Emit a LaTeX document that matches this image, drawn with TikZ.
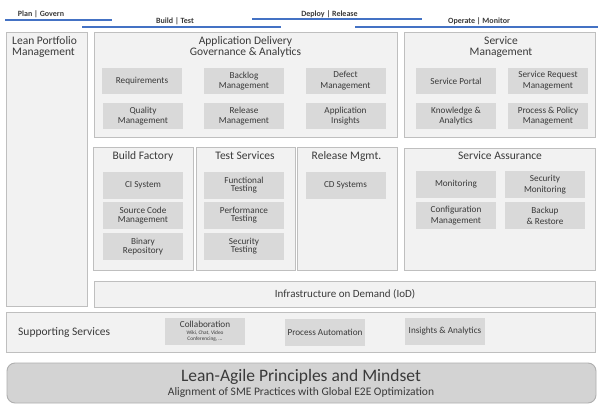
\documentclass[tikz,border=0pt]{standalone}
\usepackage{fontspec}
\setmainfont{Carlito}
\definecolor{lineblue}{HTML}{4472C4}
\definecolor{boxfill}{HTML}{F2F2F2}
\definecolor{boxdraw}{HTML}{BFBFBF}
\definecolor{innerfill}{HTML}{D9D9D9}
\definecolor{txt}{HTML}{3A3A3A}
\definecolor{basefill}{HTML}{D3D3D3}
\definecolor{basedraw}{HTML}{AFAFAF}
\tikzset{
  outerbox/.style={draw=boxdraw, fill=boxfill, line width=0.9pt},
  innerbox/.style={fill=innerfill, text=txt, align=center, inner sep=0pt, outer sep=0pt,
    minimum width=80pt, minimum height=26pt, font=\fontsize{9.2}{10.8}\selectfont},
  tightbox/.style={innerbox, minimum height=27pt, font=\fontsize{9.2}{8.2}\selectfont},
  titletext/.style={text=txt, align=center, inner sep=0pt, font=\fontsize{11.5}{11}\selectfont},
  phaseline/.style={draw=lineblue, line width=2.3pt},
  phaselabel/.style={text=txt, inner sep=0pt, font=\bfseries\fontsize{8}{8}\selectfont},
}
\begin{document}
\begin{tikzpicture}[x=1pt,y=-1pt]
\useasboundingbox[fill=white] (0,0) rectangle (600,410);

% phase lines
\coordinate (p1a) at (5,20); \coordinate (p1b) at (112,20);
\coordinate (p2a) at (82,27); \coordinate (p2b) at (281,27);
\coordinate (p3a) at (252,19); \coordinate (p3b) at (422,19);
\coordinate (p4a) at (355,27); \coordinate (p4b) at (598,27);
\draw[phaseline] (p1a) -- (p1b);
\draw[phaseline] (p2a) -- (p2b);
\draw[phaseline] (p3a) -- (p3b);
\draw[phaseline] (p4a) -- (p4b);
\node[phaselabel] (lplan) at (41,14) {Plan | Govern};
\node[phaselabel] (lbuild) at (175,21) {Build | Test};
\node[phaselabel] (ldeploy) at (329.5,14) {Deploy | Release};
\node[phaselabel] (loperate) at (479,21) {Operate | Monitor};

% outer boxes
\draw[outerbox] (6,32) rectangle (87,306);
\node[titletext, anchor=west, align=left] (lpm) at (12,47) {Lean Portfolio\\Management};

\draw[outerbox] (94,32) rectangle (397,137);
\node[titletext] (adga) at (245.5,47) {Application Delivery\\Governance \& Analytics};

\draw[outerbox] (404,32) rectangle (595,137);
\node[titletext] (svcm) at (501,47) {Service\\Management};

\draw[outerbox] (93,147) rectangle (193,270);
\node[titletext] (bf) at (143,156) {Build Factory};
\draw[outerbox] (196,147) rectangle (295,270);
\node[titletext] (ts) at (245,156) {Test Services};
\draw[outerbox] (297,147) rectangle (397,270);
\node[titletext] (rm) at (346.5,156) {Release Mgmt.};
\draw[outerbox] (404,148) rectangle (595,270);
\node[titletext] (sa) at (500,156) {Service Assurance};

\draw[outerbox] (94,281) rectangle (595,307);
\node[titletext, font=\fontsize{11}{11}\selectfont] (iod) at (345,294) {Infrastructure on Demand (IoD)};

\draw[outerbox] (6,312) rectangle (595,352);
\node[titletext, anchor=west, font=\fontsize{11.5}{11}\selectfont] (ss) at (18,333) {Supporting Services};

\draw[draw=basedraw, fill=basefill, line width=0.9pt, rounded corners=8pt] (7,363) rectangle (596,403);
\node[titletext, font=\fontsize{17.5}{18}\selectfont] (lap) at (301,377) {Lean-Agile Principles and Mindset};
\node[titletext, font=\fontsize{11.5}{12}\selectfont] (align) at (301,392.5) {Alignment of SME Practices with Global E2E Optimization};

% application delivery inner
\node[innerbox] (req) at (142,81) {Requirements};
\node[innerbox] (bkl) at (244,81) {Backlog\\Management};
\node[innerbox] (dfm) at (345.5,81) {Defect\\Management};
\node[innerbox] (qm) at (143,116) {Quality\\Management};
\node[innerbox] (rlm) at (244,116) {Release\\Management};
\node[innerbox] (ai) at (345.5,116) {Application\\Insights};

% service management inner
\node[innerbox] (sp) at (456,81) {Service Portal};
\node[innerbox] (srm) at (548,81) {Service Request\\Management};
\node[innerbox] (ka) at (456,116) {Knowledge \&\\Analytics};
\node[innerbox] (ppm) at (548,116) {Process \& Policy\\Management};

% build factory
\node[tightbox] (ci) at (143,185) {CI System};
\node[tightbox] (scm) at (143,215.5) {Source Code\\Management};
\node[tightbox] (br) at (143,246.5) {Binary\\Repository};

% test services
\node[tightbox] (ft) at (244,185) {Functional\\Testing};
\node[tightbox] (pt) at (244,215.5) {Performance\\Testing};
\node[tightbox] (st) at (244,246.5) {Security\\Testing};

% release mgmt
\node[tightbox] (cd) at (345.5,185.5) {CD Systems};

% service assurance
\node[innerbox, minimum height=27pt] (mon) at (456,184.5) {Monitoring};
\node[innerbox, minimum height=27pt] (smon) at (545,184.5) {Security\\Monitoring};
\node[innerbox, minimum height=27pt] (cfg) at (456,215.5) {Configuration\\Management};
\node[innerbox, minimum height=27pt] (bak) at (545,215.5) {Backup\\\& Restore};

% supporting services
\node[innerbox, minimum height=27pt, font=\fontsize{9.2}{8}\selectfont] (col) at (205,331.5) {Collaboration\\[-1pt]{\fontsize{5.3}{6}\selectfont Wiki, Chat, Video}\\[-2.5pt]{\fontsize{5.3}{6}\selectfont Conferencing, ...}};
\node[innerbox, minimum height=27pt] (pa) at (325,332.5) {Process Automation};
\node[innerbox, minimum height=27pt] (ia) at (445,331.5) {Insights \& Analytics};
\end{tikzpicture}
\end{document}
